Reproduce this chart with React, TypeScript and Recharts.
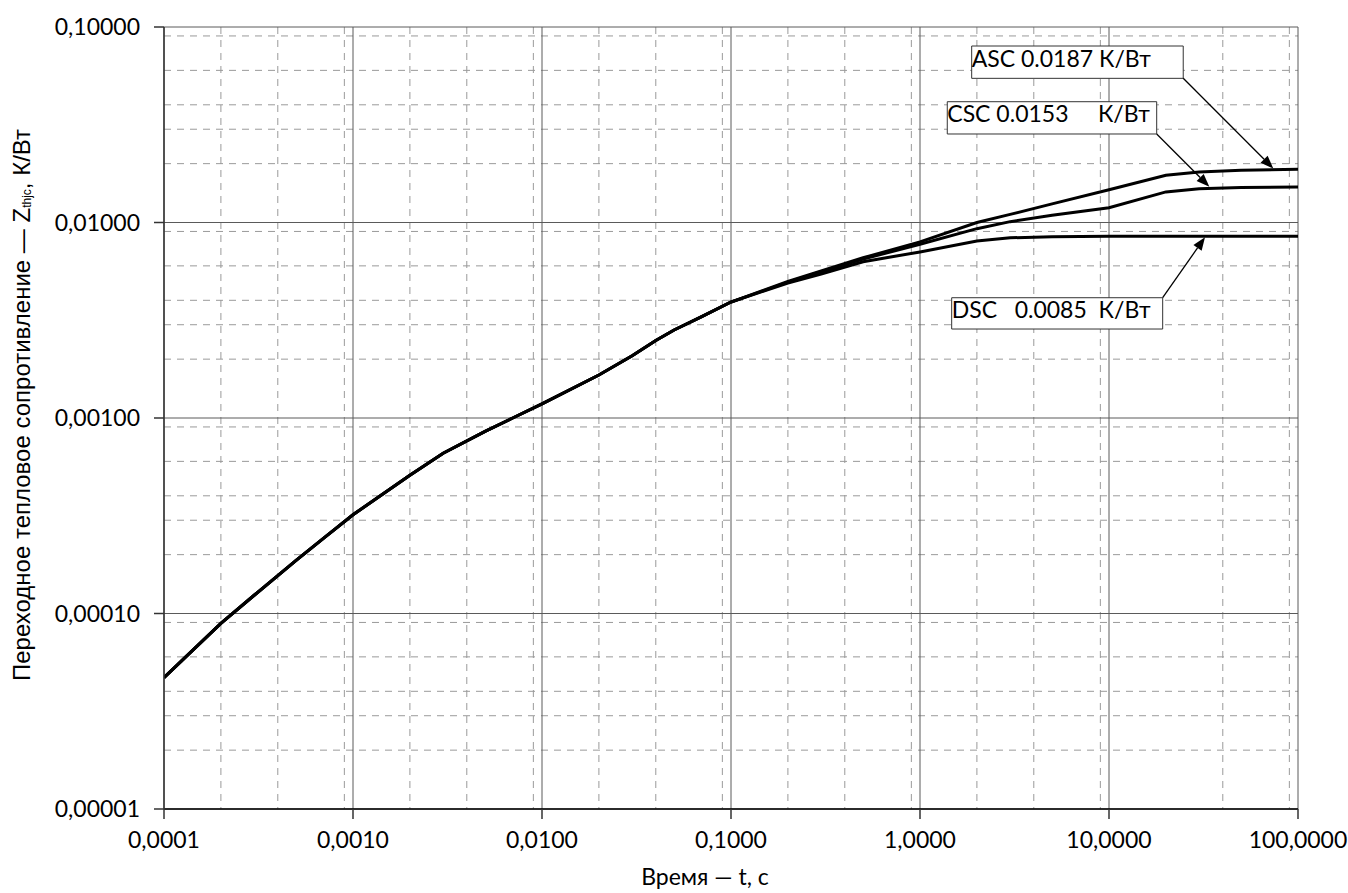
import React from 'react';
import {
  LineChart, Line, XAxis, YAxis, CartesianGrid, ReferenceArea, ReferenceLine,
} from 'recharts';

// ---- data ----
const timeCommon = [0.0001, 0.0002, 0.0003, 0.0005, 0.0007, 0.001, 0.002, 0.003, 0.005, 0.007, 0.01, 0.02, 0.03, 0.04, 0.05, 0.07, 0.1];
const zCommon = [0.000047, 0.000089, 0.000124, 0.000187, 0.000243, 0.00032, 0.00051, 0.00066, 0.000855, 0.001, 0.00118, 0.00166, 0.00208, 0.00249, 0.00282, 0.0033, 0.00392];

const timeTail = [0.2, 0.3, 0.5, 1, 2, 3, 5, 10, 20, 30, 50, 100];
const zASC = [0.0050, 0.00565, 0.0066, 0.00796, 0.0100, 0.0110, 0.01245, 0.0147, 0.01746, 0.01815, 0.0185, 0.0187];
const zCSC = [0.00495, 0.0056, 0.0065, 0.00774, 0.0093, 0.0101, 0.0109, 0.0119, 0.01434, 0.0149, 0.0151, 0.0152];
const zDSC = [0.0049, 0.00545, 0.0063, 0.00707, 0.00805, 0.00835, 0.00845, 0.0085, 0.0085, 0.0085, 0.0085, 0.0085];

const xTicks = [0.0001, 0.001, 0.01, 0.1, 1, 10, 100];
const yTicks = [0.00001, 0.0001, 0.001, 0.01, 0.1];
const gridMultipliers = [2, 3, 4, 5, 6, 7, 8, 9];

const labelASC = 'ASC 0.0187 К/Вт';
const labelCSC = 'CSC 0.0153     К/Вт';
const labelDSC = 'DSC   0.0085  К/Вт';
const xTitle = 'Время — t, с';

// ---- build series ----
const build = (tail: number[]) =>
  [...timeCommon.map((t, i) => ({ t, z: zCommon[i] })), ...timeTail.map((t, i) => ({ t, z: tail[i] }))];
const seriesASC = build(zASC);
const seriesCSC = build(zCSC);
const seriesDSC = build(zDSC);

const minorX: number[] = [];
xTicks.slice(0, -1).forEach((d) => gridMultipliers.forEach((m) => minorX.push(+(d * m).toPrecision(3))));
const minorY: number[] = [];
yTicks.slice(0, -1).forEach((d) => gridMultipliers.forEach((m) => minorY.push(+(d * m).toPrecision(3))));

const FONT = 'Lato, "Open Sans", sans-serif';
const TEXT_SIZE = 23;

// annotation placement (data coordinates)
const annotations = [
  { text: labelASC, x1: 1.877, x2: 24.7, y1: 0.05463, y2: 0.07994, from: { x: 24.7, y: 0.05463 }, to: { x: 74, y: 0.0189 } },
  { text: labelCSC, x1: 1.394, x2: 17.88, y1: 0.02836, y2: 0.04148, from: { x: 17.88, y: 0.02836 }, to: { x: 33.95, y: 0.01524 } },
  { text: labelDSC, x1: 1.471, x2: 19.23, y1: 0.002852, y2: 0.004123, from: { x: 19.23, y: 0.004123 }, to: { x: 32.2, y: 0.0084 } },
];

const ArrowShape = (p: any) => {
  const { x1, y1, x2, y2 } = p;
  const ang = Math.atan2(y2 - y1, x2 - x1);
  const L = 13;
  const W = 5;
  const bx = x2 - L * Math.cos(ang);
  const by = y2 - L * Math.sin(ang);
  const nx = -Math.sin(ang) * W;
  const ny = Math.cos(ang) * W;
  return (
    <g>
      <line x1={x1} y1={y1} x2={bx} y2={by} stroke="#000" strokeWidth={1.3} />
      <polygon points={`${x2},${y2} ${bx + nx},${by + ny} ${bx - nx},${by - ny}`} fill="#000" />
    </g>
  );
};

const boxLabel = (text: string) => (props: any) => {
  const vb = props.viewBox || {};
  return (
    <text
      x={vb.x}
      y={vb.y + vb.height * 0.64}
      fontFamily={FONT}
      fontSize={TEXT_SIZE}
      fill="#000"
      style={{ whiteSpace: 'pre' }}
    >
      {text}
    </text>
  );
};

const fmtX = (v: number) => v.toFixed(4).replace('.', ',');
const fmtY = (v: number) => v.toFixed(5).replace('.', ',');

export default function App() {
  return (
    <div style={{ position: 'fixed', left: 0, top: 0, width: 1348, height: 893, overflow: 'hidden', background: '#fff' }}>
      <style>{'html,body{margin:0;padding:0;overflow:hidden;}'}</style>
      <LineChart
        width={1348}
        height={893}
        margin={{ top: 27, right: 50, bottom: 0, left: 0 }}
      >
        <CartesianGrid
          horizontalValues={minorY}
          verticalValues={minorX}
          stroke="#9a9a9a"
          strokeDasharray="7 6"
          strokeWidth={1}
        />
        <CartesianGrid
          horizontalValues={yTicks}
          verticalValues={xTicks}
          stroke="#5a5a5a"
          strokeWidth={1}
        />
        <XAxis
          type="number"
          dataKey="t"
          scale="log"
          domain={[0.0001, 100]}
          ticks={xTicks}
          allowDataOverflow
          tickFormatter={fmtX}
          tickSize={10}
          tickMargin={13}
          height={84}
          axisLine={{ stroke: '#000', strokeWidth: 1.5 }}
          tickLine={{ stroke: '#333', strokeWidth: 1.5 }}
          tick={{ fill: '#000', fontFamily: FONT, fontSize: TEXT_SIZE }}
          label={{
            content: () => (
              <text x={705} y={885} textAnchor="middle" fontFamily={FONT} fontSize={TEXT_SIZE} fill="#000">
                {xTitle}
              </text>
            ),
          }}
        />
        <YAxis
          type="number"
          dataKey="z"
          scale="log"
          domain={[0.00001, 0.1]}
          ticks={yTicks}
          allowDataOverflow
          tickFormatter={fmtY}
          tickSize={10}
          tickMargin={14}
          width={164}
          axisLine={{ stroke: '#333', strokeWidth: 1.5 }}
          tickLine={{ stroke: '#333', strokeWidth: 1.5 }}
          tick={{ fill: '#000', fontFamily: FONT, fontSize: TEXT_SIZE }}
          label={{
            content: () => (
              <text
                transform="translate(21, 405) rotate(-90)"
                textAnchor="middle"
                dominantBaseline="central"
                fontFamily='"Liberation Sans", Arial, sans-serif'
                fontSize={24}
                fill="#000"
              >
                Переходное тепловое сопротивление — Z
                <tspan fontSize={12} dy={6}>thjc</tspan>
                <tspan dy={-6}>, К/Вт</tspan>
              </text>
            ),
          }}
        />
        <Line data={seriesDSC} dataKey="z" type="linear" stroke="#000" strokeWidth={3} dot={false} isAnimationActive={false} />
        <Line data={seriesCSC} dataKey="z" type="linear" stroke="#000" strokeWidth={3} dot={false} isAnimationActive={false} />
        <Line data={seriesASC} dataKey="z" type="linear" stroke="#000" strokeWidth={3} dot={false} isAnimationActive={false} />
        {annotations.map((a, i) => (
          <ReferenceLine
            key={`arr${i}`}
            segment={[a.from, a.to]}
            shape={ArrowShape}
            ifOverflow="visible"
          />
        ))}
        {annotations.map((a, i) => (
          <ReferenceArea
            key={`box${i}`}
            x1={a.x1}
            x2={a.x2}
            y1={a.y1}
            y2={a.y2}
            fill="#fff"
            fillOpacity={1}
            stroke="#333"
            strokeWidth={1}
            ifOverflow="visible"
            label={boxLabel(a.text)}
          />
        ))}
      </LineChart>
    </div>
  );
}
